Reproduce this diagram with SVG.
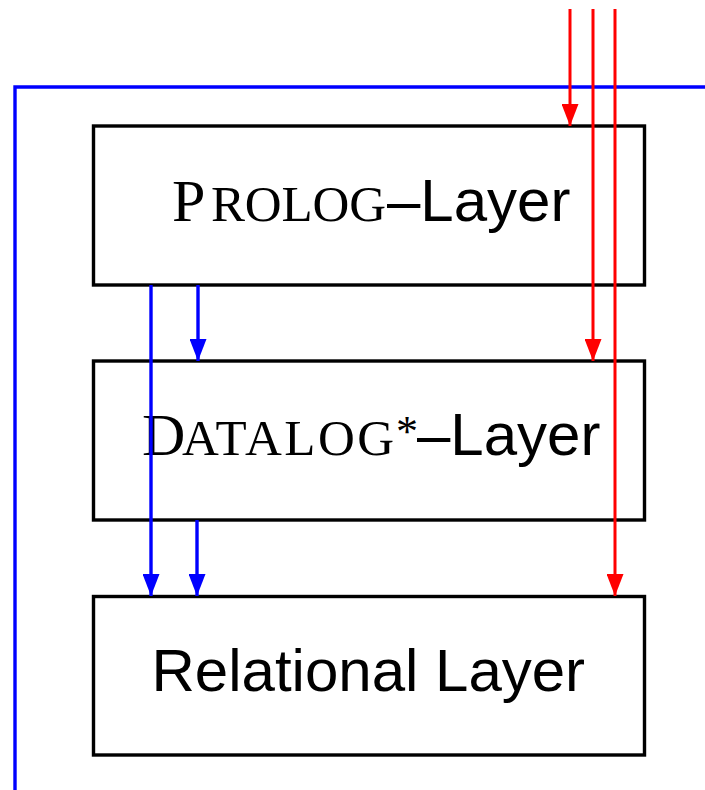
<svg xmlns="http://www.w3.org/2000/svg" width="705" height="790" viewBox="0 0 705 790">
  <style>
    .box { fill: #fff; stroke: #000; stroke-width: 3.4; }
    .blue { fill: none; stroke: #0000ff; stroke-width: 3.4; }
    .red { fill: none; stroke: #ff0000; stroke-width: 3; }
    .sc { font-family: "Liberation Serif", "Times New Roman", serif; fill: #000; }
    .ss { font-family: "Liberation Sans", Arial, sans-serif; font-size: 60px; fill: #000; }
  </style>
  <defs>
    <marker id="arrowBlue" markerUnits="userSpaceOnUse" viewBox="0 0 22 17" refX="22" refY="8.5" markerWidth="22" markerHeight="17" orient="auto">
      <path d="M0,0 L22,8.5 L0,17 z" fill="#0000ff"/>
    </marker>
    <marker id="arrowRed" markerUnits="userSpaceOnUse" viewBox="0 0 22 17" refX="22" refY="8.5" markerWidth="22" markerHeight="17" orient="auto">
      <path d="M0,0 L22,8.5 L0,17 z" fill="#ff0000"/>
    </marker>
  </defs>

  <!-- layer boxes -->
  <g id="prolog-layer">
    <rect class="box" x="93.5" y="126" width="551" height="159"/>
    <text y="221"><tspan class="sc" x="172" font-size="60">P</tspan><tspan class="sc" x="211" font-size="51" textLength="175" lengthAdjust="spacing">ROLOG</tspan><tspan class="ss" x="387">–Layer</tspan></text>
  </g>
  <g id="datalog-layer">
    <rect class="box" x="93.5" y="361" width="551" height="159"/>
    <text y="455"><tspan class="sc" x="142" font-size="60">D</tspan><tspan class="sc" x="182" font-size="51" textLength="212" lengthAdjust="spacing">ATALOG</tspan><tspan class="sc" x="396" y="446" font-size="44">*</tspan><tspan class="ss" x="417" y="455">–Layer</tspan></text>
  </g>
  <g id="relational-layer">
    <rect class="box" x="93.5" y="596.5" width="551" height="158.5"/>
    <text class="ss" x="151.5" y="691">Relational Layer</text>
  </g>

  <!-- connectors -->
  <g id="connectors">
    <path class="blue" d="M705,87 H15 V790"/>
    <line class="blue" x1="151" y1="285" x2="151" y2="596" marker-end="url(#arrowBlue)"/>
    <line class="blue" x1="198" y1="285" x2="198" y2="361" marker-end="url(#arrowBlue)"/>
    <line class="blue" x1="197" y1="520" x2="197" y2="596" marker-end="url(#arrowBlue)"/>
    <line class="red" x1="570" y1="9" x2="570" y2="126" marker-end="url(#arrowRed)"/>
    <line class="red" x1="593" y1="9" x2="593" y2="361" marker-end="url(#arrowRed)"/>
    <line class="red" x1="615" y1="9" x2="615" y2="596" marker-end="url(#arrowRed)"/>
  </g>
</svg>
